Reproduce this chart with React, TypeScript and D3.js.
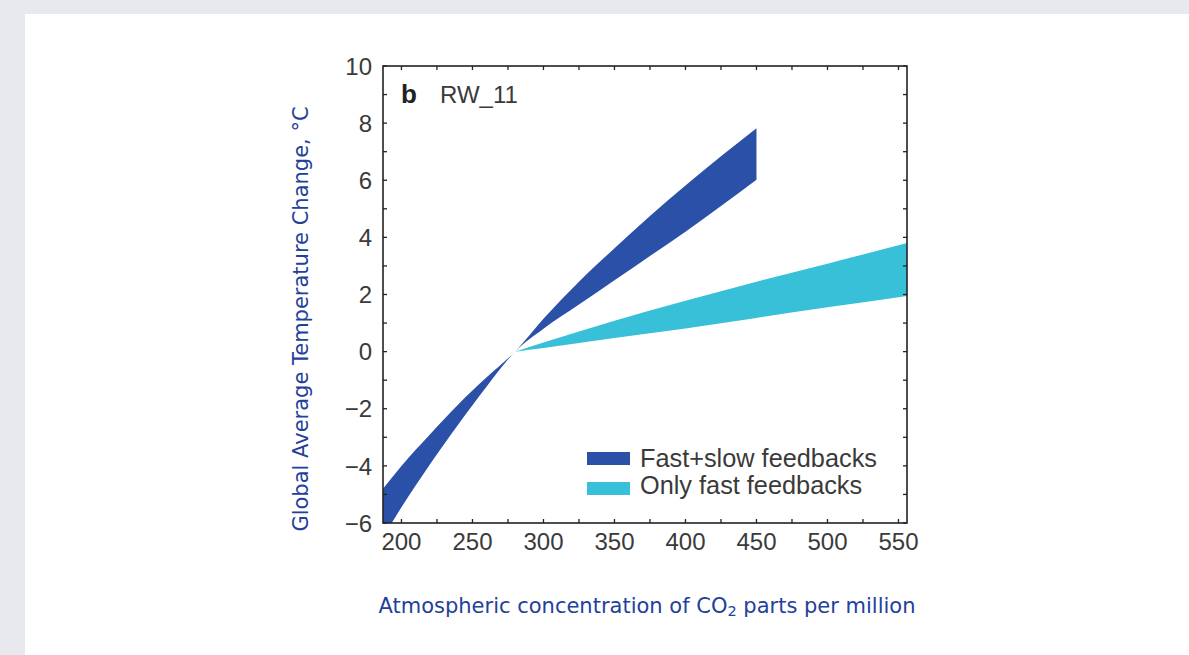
import React from "react";
import * as d3 from "d3";

// ---------- data ----------
const fastSlowCO2 = [187, 200, 220, 240, 260, 280, 300, 325, 350, 375, 400, 425, 450];
const fastSlowUpper = [-4.8, -4.0, -2.9, -1.85, -0.9, 0, 1.15, 2.45, 3.62, 4.75, 5.82, 6.84, 7.82];
const fastSlowLower = [-6.5, -5.45, -3.95, -2.55, -1.22, 0, 0.8, 1.65, 2.5, 3.35, 4.2, 5.1, 6.02];

const fastOnlyCO2 = [280, 300, 350, 400, 450, 500, 556];
const fastOnlyUpper = [0, 0.32, 1.08, 1.78, 2.45, 3.08, 3.8];
const fastOnlyLower = [0, 0.13, 0.48, 0.81, 1.18, 1.55, 1.95];

const xTickValues = [200, 250, 300, 350, 400, 450, 500, 550];
const xMinorTicks = [200, 225, 250, 275, 300, 325, 350, 375, 400, 425, 450, 475, 500, 525, 550];
const yTickValues = [-6, -4, -2, 0, 2, 4, 6, 8, 10];
const yMinorTicks = [-6, -5, -4, -3, -2, -1, 0, 1, 2, 3, 4, 5, 6, 7, 8, 9, 10];

const legendLabels = ["Fast+slow feedbacks", "Only fast feedbacks"];
const seriesColors = ["#2a50a8", "#38c0d8"];
const panelLabel = "b";
const panelTitle = "RW_11";
const xAxisTitle = "Atmospheric concentration of CO";
const xAxisTitleSub = "2";
const xAxisTitleTail = " parts per million";
const yAxisTitle = "Global Average Temperature Change, °C";

// ---------- layout ----------
const W = 1189;
const H = 655;
const plot = { left: 383, right: 907, top: 66, bottom: 523 };

export default function App() {
  const x = d3.scaleLinear().domain([187, 556]).range([plot.left, plot.right]);
  const y = d3.scaleLinear().domain([-6, 10]).range([plot.bottom, plot.top]);

  const fastSlowData = fastSlowCO2.map((c, i) => ({ c, lo: fastSlowLower[i], hi: fastSlowUpper[i] }));
  const fastOnlyData = fastOnlyCO2.map((c, i) => ({ c, lo: fastOnlyLower[i], hi: fastOnlyUpper[i] }));

  const area = d3
    .area<{ c: number; lo: number; hi: number }>()
    .x((d) => x(d.c))
    .y0((d) => y(d.lo))
    .y1((d) => y(d.hi))
    .curve(d3.curveMonotoneX);

  const tickLen = 4;
  const axisFont = "'Liberation Sans', Arial, Helvetica, sans-serif";
  const titleFont = "'DejaVu Sans', 'Open Sans', sans-serif";
  const textColor = "#3a3a3a";
  const titleColor = "#23409a";
  const fmt = (v: number) => (v < 0 ? "\u2212" + Math.abs(v) : String(v));

  return (
    <svg
      width={W}
      height={H}
      style={{ position: "absolute", left: 0, top: 0, display: "block" }}
    >
      <rect x={0} y={0} width={W} height={H} fill="#e8e9ee" />
      <rect x={25} y={14} width={W - 25} height={H - 14} fill="#ffffff" />

      <defs>
        <clipPath id="plotClip">
          <rect x={plot.left} y={plot.top} width={plot.right - plot.left} height={plot.bottom - plot.top} />
        </clipPath>
      </defs>

      <g clipPath="url(#plotClip)">
        <path d={area(fastOnlyData) || ""} fill={seriesColors[1]} />
        <path d={area(fastSlowData) || ""} fill={seriesColors[0]} />
      </g>

      {/* frame */}
      <rect
        x={plot.left}
        y={plot.top}
        width={plot.right - plot.left}
        height={plot.bottom - plot.top}
        fill="none"
        stroke="#222"
        strokeWidth={1.6}
      />

      {/* ticks, inward on all sides */}
      <g stroke="#222" strokeWidth={1.3}>
        {xMinorTicks.map((v) => (
          <g key={"xt" + v}>
            <line x1={x(v)} x2={x(v)} y1={plot.bottom} y2={plot.bottom - tickLen} />
            <line x1={x(v)} x2={x(v)} y1={plot.top} y2={plot.top + tickLen} />
          </g>
        ))}
        {yMinorTicks.map((v) => (
          <g key={"yt" + v}>
            <line x1={plot.left} x2={plot.left + tickLen} y1={y(v)} y2={y(v)} />
            <line x1={plot.right} x2={plot.right - tickLen} y1={y(v)} y2={y(v)} />
          </g>
        ))}
      </g>

      {/* tick labels */}
      <g fontFamily={axisFont} fontSize={24} fill={textColor}>
        {xTickValues.map((v) => (
          <text key={"xl" + v} x={x(v)} y={550} textAnchor="middle">
            {fmt(v)}
          </text>
        ))}
        {yTickValues.map((v) => (
          <text key={"yl" + v} x={372} y={y(v)} dy="0.36em" textAnchor="end">
            {fmt(v)}
          </text>
        ))}
      </g>

      {/* panel label */}
      <text x={401} y={103} fontFamily={axisFont} fontSize={26} fontWeight="bold" fill="#222">
        {panelLabel}
      </text>
      <text x={440} y={103} fontFamily={axisFont} fontSize={24} fill={textColor}>
        {panelTitle}
      </text>

      {/* legend */}
      {legendLabels.map((lab, i) => (
        <g key={lab}>
          <rect x={587} y={452 + i * 30} width={43} height={13} fill={seriesColors[i]} />
          <text x={640} y={467 + i * 27} fontFamily={axisFont} fontSize={25.3} fill={textColor}>
            {lab}
          </text>
        </g>
      ))}

      {/* axis titles */}
      <text x={647} y={613} textAnchor="middle" fontFamily={titleFont} fontSize={21} fill={titleColor}>
        {xAxisTitle}
        <tspan fontSize={14.5} dy={3}>{xAxisTitleSub}</tspan>
        <tspan dy={-3}>{xAxisTitleTail}</tspan>
      </text>
      <text
        transform={`translate(308, 319) rotate(-90)`}
        textAnchor="middle"
        fontFamily={titleFont}
        fontSize={21}
        fill={titleColor}
      >
        {yAxisTitle}
      </text>
    </svg>
  );
}
